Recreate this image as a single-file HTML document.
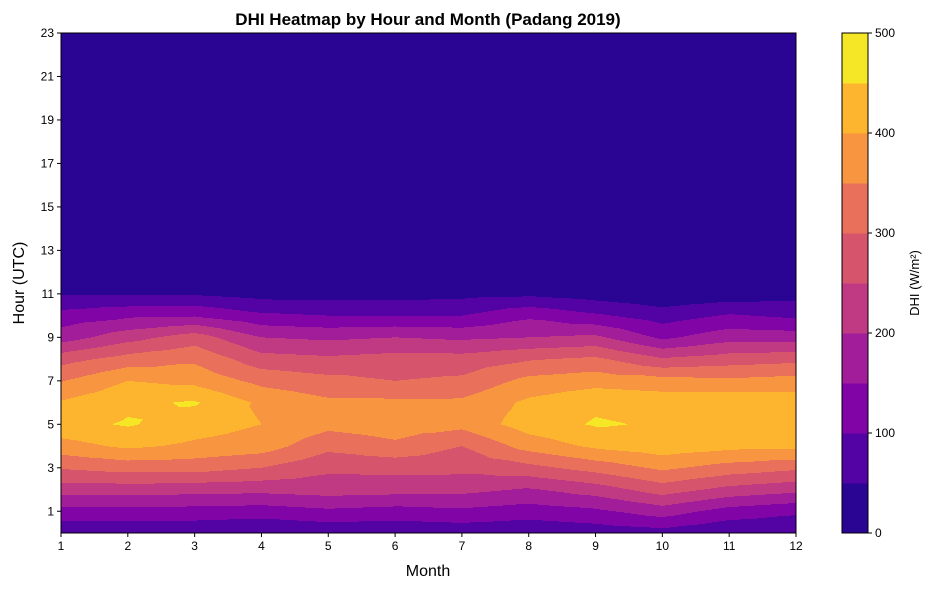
<!DOCTYPE html>
<html><head><meta charset="utf-8"><style>
body{margin:0;background:#fff;}
svg text{font-family:"Liberation Sans","DejaVu Sans",sans-serif;}
</style></head><body>
<svg id="chart" width="932" height="590" xmlns="http://www.w3.org/2000/svg">
<rect width="932" height="590" fill="#fff"/>
<text x="428" y="25" text-anchor="middle" font-size="17" font-weight="bold">DHI Heatmap by Hour and Month (Padang 2019)</text>
<g id="plot"></g>
<g id="axes"></g>
<g id="cbar"></g>
<text x="428" y="576" text-anchor="middle" font-size="16">Month</text>
<text transform="translate(24,283) rotate(-90)" text-anchor="middle" font-size="16">Hour (UTC)</text>
<text transform="translate(919,283) rotate(-90)" text-anchor="middle" font-size="13">DHI (W/m²)</text>
</svg>
<script>
const months = [1,2,3,4,5,6,7,8,9,10,11,12];
const hours = [0,1,2,3,4,5,6,7,8,9,10,11,12,13,14,15,16,17,18,19,20,21,22,23];
// DHI per month, values for hours 0..11; hours 12..23 are 0
const dhiM1  = [60,130,225,305,380,435,405,347,280,175,120,45];
const dhiM2  = [60,130,225,320,410,455,440,400,320,230,140,45];
const dhiM3  = [60,130,220,320,390,425,455,385,340,275,145,45];
const dhiM4  = [50,125,215,300,375,400,390,335,270,200,110,30];
const dhiM5  = [60,140,225,260,315,365,360,315,260,190,100,30];
const dhiM6  = [60,130,220,265,340,375,360,300,270,200,100,30];
const dhiM7  = [65,140,215,265,300,365,360,310,270,190,100,35];
const dhiM8  = [60,125,195,285,370,425,410,365,295,200,140,40];
const dhiM9  = [70,140,225,320,410,455,440,380,310,210,108,25];
const dhiM10 = [80,175,275,360,430,445,430,370,255,140,75,10];
const dhiM11 = [55,130,235,330,415,445,435,360,275,180,105,20];
const dhiM12 = [55,110,215,310,415,440,430,370,285,175,90,30];
const levels = [0,50,100,150,200,250,300,350,400,450,500];
const cbarTicks = [0,100,200,300,400,500];
const xTicks = [1,2,3,4,5,6,7,8,9,10,11,12];
const yTicks = [1,3,5,7,9,11,13,15,17,19,21,23];
const colors = ['#2a0593','#5302a3','#8104a7','#a21d9a','#c03a83','#d6556d','#e9705a','#f89540','#fdb42f','#f5e626'];

const dhi = [dhiM1,dhiM2,dhiM3,dhiM4,dhiM5,dhiM6,dhiM7,dhiM8,dhiM9,dhiM10,dhiM11,dhiM12];
const X0=61,X1=796,Y0=533,Y1=33;
const xs = m => X0+(m-1)/11*(X1-X0);
const ys = h => Y0-h/23*(Y0-Y1);
const NS='http://www.w3.org/2000/svg';
function val(mi,h){const a=dhi[mi];return h<a.length?a[h]:0;}
function interp(m,h){
  let mi=Math.min(Math.floor(m-1),10), hi=Math.min(Math.floor(h),22);
  const fm=(m-1)-mi, fh=h-hi;
  const a=val(mi,hi),b=val(mi+1,hi),c=val(mi,hi+1),d=val(mi+1,hi+1);
  const e=(a+b+c+d)/4, dx=fm-0.5, dy=fh-0.5;
  if(Math.abs(dx)>=Math.abs(dy)){
    if(dx<0) return a+(c-a)*fh+(2*e-a-c)*fm;
    return b+(d-b)*fh+(2*e-b-d)*(1-fm);
  } else {
    if(dy<0) return a+(b-a)*fm+(2*e-a-b)*fh;
    return c+(d-c)*fm+(2*e-c-d)*(1-fh);
  }
}
function lvl(v){for(let i=levels.length-2;i>=0;i--) if(v>=levels[i]) return i;return 0;}
const plot=document.getElementById('plot');
const bg=document.createElementNS(NS,'rect');


bg.setAttribute('x',X0);bg.setAttribute('y',Y1);bg.setAttribute('width',X1-X0);bg.setAttribute('height',Y0-Y1);bg.setAttribute('fill',colors[0]);
plot.appendChild(bg);
const CW=1,CH=1;
for(let py=Y1;py<Y0;py+=CH){
  const h=(Y0-(py+CH/2))/(Y0-Y1)*23;
  if(h>12.5) continue;
  let runStart=X0,runL=-1;
  const flush=(end)=>{ if(runL>0){const r=document.createElementNS(NS,'rect');
    
    
    r.setAttribute('x',runStart);r.setAttribute('y',py);r.setAttribute('width',end-runStart+0.3);r.setAttribute('height',CH+0.3);r.setAttribute('fill',colors[runL]);plot.appendChild(r);} };
  for(let px=X0;px<X1;px+=CW){
    const m=1+(px+CW/2-X0)/(X1-X0)*11;
    const L=lvl(interp(m,h));
    if(L!==runL){flush(px);runStart=px;runL=L;}
  }
  flush(X1);
}
const axes=document.getElementById('axes');
function add(parent,tag,attrs,text){const e=document.createElementNS(NS,tag);for(const k in attrs)e.setAttribute(k,attrs[k]);if(text!==undefined)e.textContent=text;parent.appendChild(e);return e;}
const fr=add(axes,'rect',{x:X0,y:Y1,width:X1-X0,height:Y0-Y1,fill:'none',stroke:'#000','stroke-width':1});


xTicks.forEach(t=>{const x=xs(t);
  const l=add(axes,'line',{x1:x,x2:x,y1:Y0,y2:Y0+4,stroke:'#000'});
  
  
  const tx=add(axes,'text',{x:x,y:Y0+17,'text-anchor':'middle','font-size':12},t);
  
  
});
yTicks.forEach(t=>{const y=ys(t);
  const l=add(axes,'line',{x1:X0-4,x2:X0,y1:y,y2:y,stroke:'#000'});
  
  
  const tx=add(axes,'text',{x:X0-7,y:y+4,'text-anchor':'end','font-size':12},t);
  
  
});
const cb=document.getElementById('cbar');
const CX=842,CWd=26;
const cy=v=>Y0-(v-levels[0])/(levels[levels.length-1]-levels[0])*(Y0-Y1);
for(let i=0;i<levels.length-1;i++){
  const r=add(cb,'rect',{x:CX,y:cy(levels[i+1]),width:CWd,height:cy(levels[i])-cy(levels[i+1])+0.5,fill:colors[i]});
  
  
}
const cbf=add(cb,'rect',{x:CX,y:Y1,width:CWd,height:Y0-Y1,fill:'none',stroke:'#000'});


cbarTicks.forEach(t=>{const y=cy(t);
  const l=add(cb,'line',{x1:CX+CWd,x2:CX+CWd+4,y1:y,y2:y,stroke:'#000'});
  
  
  const tx=add(cb,'text',{x:CX+CWd+7,y:y+4,'font-size':12},t);
  
  
});
</script>
</body></html>
